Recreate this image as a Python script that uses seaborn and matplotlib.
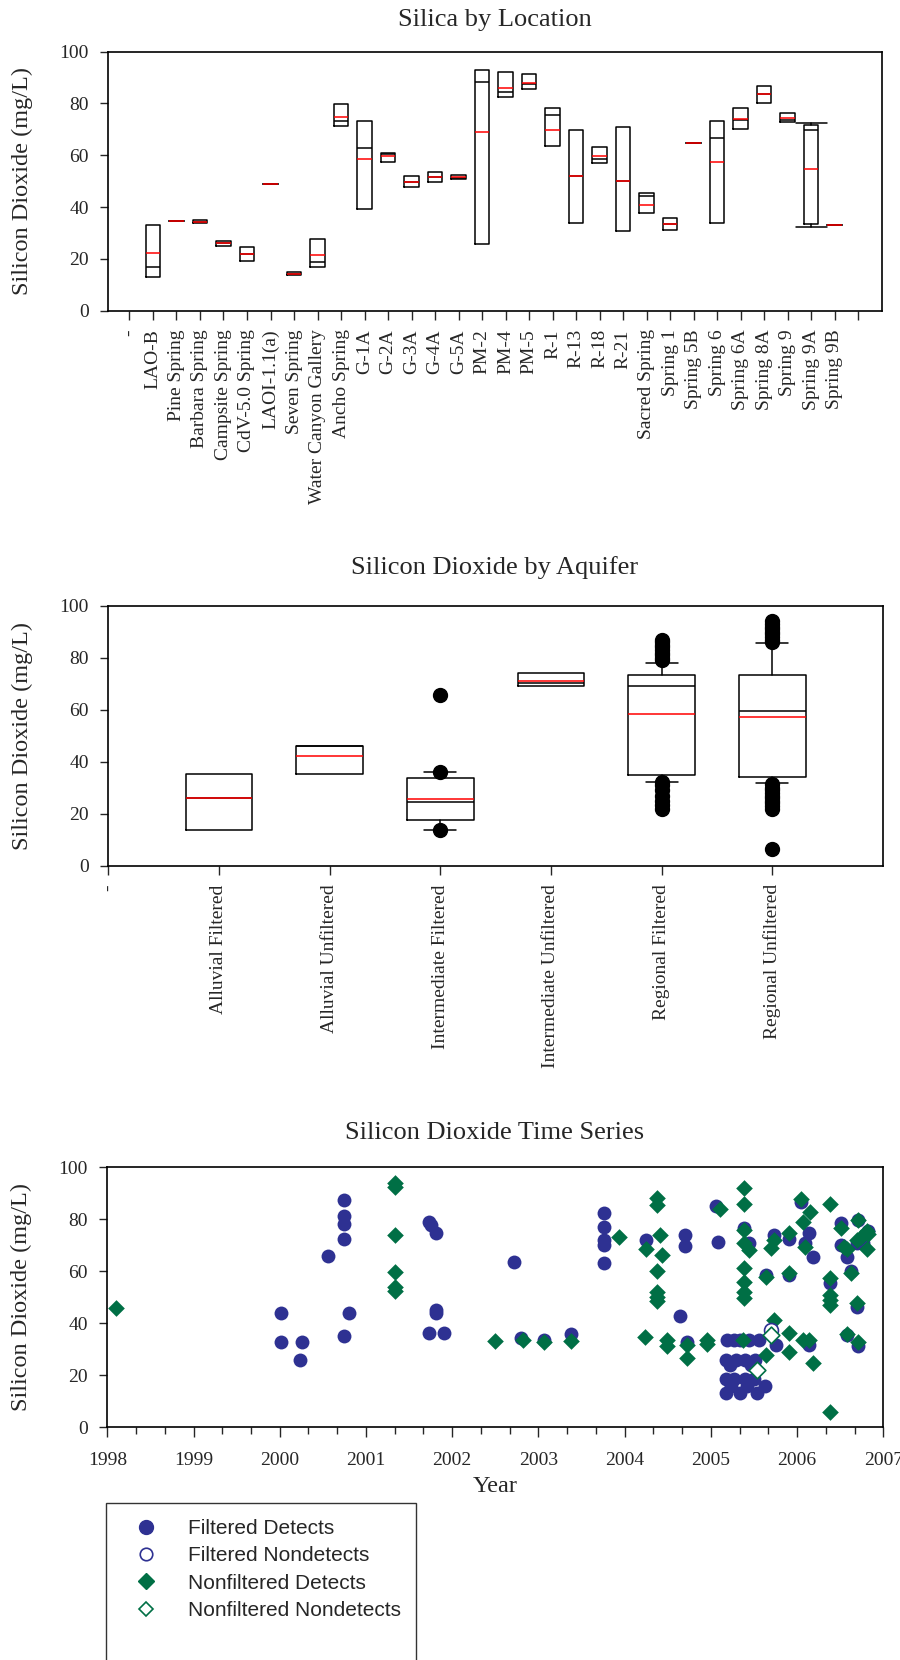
import matplotlib
matplotlib.use("Agg")
import matplotlib.pyplot as plt
from matplotlib.lines import Line2D
from matplotlib.patches import Rectangle
from matplotlib.ticker import MultipleLocator
import numpy as np
import pandas as pd
import seaborn as sns

# --- Silica by location (box summary) ---
locations = ["-", "LAO-B", "Pine Spring", "Barbara Spring", "Campsite Spring", "CdV-5.0 Spring",
             "LAOI-1.1(a)", "Seven Spring", "Water Canyon Gallery", "Ancho Spring", "G-1A", "G-2A",
             "G-3A", "G-4A", "G-5A", "PM-2", "PM-4", "PM-5", "R-1", "R-13", "R-18", "R-21",
             "Sacred Spring", "Spring 1", "Spring 5B", "Spring 6", "Spring 6A", "Spring 8A",
             "Spring 9", "Spring 9A", "Spring 9B", ""]
loc_q3 = [33.2, 34.7, 35.0, 26.9, 24.6, 48.8, 15.1, 27.7, 79.7, 73.2, 60.9, 52.0, 53.7, 52.5, 93.1,
          92.0, 91.2, 78.1, 69.9, 63.1, 70.9, 45.3, 35.6, 64.6, 73.4, 78.1, 86.9, 76.2, 71.7, 32.9]
loc_q1 = [13.2, 34.7, 33.9, 25.1, 19.3, 48.8, 13.8, 17.0, 71.4, 39.3, 57.3, 47.8, 49.7, 50.7, 25.9,
          82.5, 85.6, 63.4, 33.9, 57.0, 30.9, 37.7, 31.1, 64.6, 33.9, 70.2, 80.2, 72.7, 33.6, 32.9]
loc_med = [16.9, 34.7, 34.4, 26.0, 22.0, 48.8, 14.3, 18.7, 73.4, 62.8, 60.5, 49.5, 51.7, 51.1, 88.4,
           84.4, 87.5, 75.6, 51.9, 58.6, 50.2, 44.1, 33.4, 64.6, 66.7, 73.6, 83.7, 73.7, 69.9, 32.9]
loc_mean = [22.1, 34.7, 34.4, 26.0, 22.0, 48.8, 14.3, 21.6, 74.8, 58.6, 59.6, 49.5, 51.7, 51.8, 69.1,
            86.1, 88.1, 69.6, 51.9, 59.6, 50.2, 40.8, 33.5, 64.6, 57.3, 74.1, 83.7, 74.4, 54.7, 32.9]
loc_whislo = list(loc_q1[:28]) + [32.5, 32.9]
loc_whishi = list(loc_q3[:28]) + [72.6, 32.9]

# --- Silicon dioxide by aquifer ---
aquifers = ["-", "Alluvial Filtered", "Alluvial Unfiltered", "Intermediate Filtered",
            "Intermediate Unfiltered", "Regional Filtered", "Regional Unfiltered"]
aq_q1 = [13.7, 35.4, 17.5, 69.1, 35.0, 34.0]
aq_q3 = [35.4, 46.2, 33.6, 74.0, 73.5, 73.2]
aq_med = [25.9, 45.9, 24.5, 70.2, 69.0, 59.4]
aq_mean = [25.9, 42.2, 25.8, 71.2, 58.2, 57.3]
aq_whislo = [13.7, 35.4, 13.7, 69.1, 32.3, 31.7]
aq_whishi = [35.4, 46.2, 35.9, 74.0, 78.1, 85.5]
aq_fliers = [[], [], [65.7, 35.9, 13.7], [],
             [79.0, 80.0, 81.0, 82.0, 83.0, 84.0, 85.0, 86.0, 87.0,
              32.3, 31.0, 29.0, 27.0, 25.0, 23.5, 22.0],
             [86.0, 87.0, 88.0, 89.0, 90.0, 91.0, 92.0, 93.0, 94.0,
              31.5, 30.0, 29.0, 28.0, 27.0, 26.0, 25.0, 24.0, 23.0, 22.0, 6.3]]

# --- time series ---
fd_year = [2000.01, 2000.01, 2000.26, 2000.24, 2000.56, 2000.74, 2000.74, 2000.74, 2000.74, 2000.74,
           2000.80, 2001.73, 2001.75, 2001.81, 2001.81, 2001.81, 2001.73, 2001.91, 2002.72, 2002.80,
           2003.07, 2003.38, 2003.76, 2003.76, 2003.76, 2003.76, 2003.76, 2004.25, 2004.64, 2004.70,
           2004.70, 2004.72, 2005.06, 2005.08,
           2005.19, 2005.27, 2005.34, 2005.44, 2005.56, 2005.17, 2005.29, 2005.40, 2005.51, 2005.22,
           2005.47, 2005.17, 2005.27, 2005.40, 2005.50, 2005.23, 2005.42, 2005.63, 2005.17, 2005.34,
           2005.53,
           2005.38, 2005.44, 2005.64, 2005.73, 2005.75, 2005.91, 2005.91, 2006.05, 2006.14, 2006.09,
           2006.18, 2006.14, 2006.38, 2006.51, 2006.51, 2006.58, 2006.62, 2006.58, 2006.69, 2006.71,
           2006.71, 2006.82, 2006.77, 2006.69]
fd_value = [44.1, 32.9, 32.9, 25.9, 66.0, 87.3, 81.3, 78.1, 72.4, 35.1,
            44.1, 79.1, 77.7, 74.9, 45.1, 43.8, 36.1, 36.1, 63.7, 34.2,
            33.5, 35.9, 82.3, 77.2, 72.0, 70.1, 63.3, 72.0, 42.8, 74.0,
            69.7, 32.9, 85.2, 71.4,
            33.6, 33.6, 33.6, 33.6, 33.6, 25.9, 25.9, 25.9, 25.9, 24.0,
            24.0, 18.6, 18.6, 18.6, 18.6, 16.0, 16.0, 16.0, 13.1, 13.1,
            13.1,
            76.5, 70.8, 58.6, 74.0, 31.7, 72.4, 58.6, 86.8, 74.9, 71.0,
            65.6, 31.7, 55.4, 78.5, 70.1, 65.6, 60.1, 35.5, 46.4, 31.3,
            79.7, 75.6, 70.8, 70.8]
fn_year = [2005.70]
fn_value = [37.4]
nd_year = [1998.10, 2001.34, 2001.34, 2001.34, 2001.34, 2001.34, 2001.34, 2002.50, 2002.82, 2003.07,
           2003.38, 2003.94, 2004.25, 2004.24, 2004.38, 2004.38, 2004.41, 2004.43, 2004.38, 2004.38,
           2004.38, 2004.38, 2004.49, 2004.49, 2004.72, 2004.72, 2004.95, 2004.95, 2005.11, 2005.38,
           2005.38, 2005.38, 2005.38, 2005.38, 2005.38, 2005.38, 2005.38, 2005.44, 2005.37, 2005.64,
           2005.73, 2005.64, 2005.73, 2005.70, 2005.91, 2005.91, 2005.91, 2005.91, 2006.05, 2006.15,
           2006.07, 2006.09, 2006.07, 2006.14, 2006.18, 2006.38, 2006.38, 2006.38, 2006.38, 2006.38,
           2006.38, 2006.51, 2006.55, 2006.58, 2006.62, 2006.58, 2006.69, 2006.71, 2006.71, 2006.81,
           2006.81, 2006.74, 2006.82, 2006.69]
nd_value = [45.8, 94.1, 92.3, 74.1, 59.6, 54.1, 52.5, 33.3, 33.6, 32.9,
            33.2, 73.3, 68.5, 34.8, 88.1, 85.5, 74.0, 66.3, 60.2, 52.2,
            50.2, 48.6, 33.6, 31.4, 31.7, 26.8, 33.6, 31.9, 83.8, 91.9,
            85.9, 75.9, 70.8, 61.2, 56.0, 52.2, 49.6, 68.2, 33.5, 27.8,
            41.3, 57.9, 72.0, 68.8, 74.9, 59.2, 36.1, 29.1, 87.7, 82.9,
            79.1, 69.2, 33.6, 33.6, 24.8, 85.8, 6.0, 57.3, 50.9, 49.0,
            47.0, 76.5, 69.5, 68.5, 59.2, 35.9, 47.9, 32.9, 79.7, 75.5,
            68.5, 73.1, 74.3, 72.0]
nn_year = [2005.53, 2005.70]
nn_value = [22.0, 35.5]

blue = "#2e3192"
green = "#006f45"

sns.set_style("ticks")
plt.rcParams["font.family"] = ["Liberation Serif", "DejaVu Serif"]
plt.rcParams["axes.linewidth"] = 1.2

W, H = 900, 1660
fig = plt.figure(figsize=(9, 16.6), dpi=100)


def box_axes(left, right, top, bottom):
    return fig.add_axes([left / W, 1 - bottom / H, (right - left) / W, (bottom - top) / H])


def style_axes(ax):
    for s in ax.spines.values():
        s.set_visible(True)
        s.set_color("black")
    ax.set_ylim(0, 100)
    ax.set_yticks(range(0, 101, 20))
    ax.tick_params(axis="y", direction="out", length=6, width=1, labelsize=14, pad=8)
    ax.tick_params(axis="x", direction="out", length=6.3, width=1, labelsize=14, pad=7)
    ax.set_ylabel("Silicon Dioxide (mg/L)", fontsize=17.5)
    ax.yaxis.set_label_coords(-0.097, 0.5)
    ax.grid(False)


box_kw = dict(showmeans=True, meanline=True, manage_ticks=False,
              boxprops=dict(color="black", linewidth=1.1),
              medianprops=dict(color="black", linewidth=1.1),
              meanprops=dict(color="red", linewidth=1.1, linestyle="-"),
              whiskerprops=dict(color="black", linewidth=1.1),
              capprops=dict(color="black", linewidth=1.1),
              flierprops=dict(marker="o", markerfacecolor="black", markeredgecolor="black",
                              markersize=10))

# ---- panel 1 ----
ax1 = box_axes(108.3, 881.7, 51.7, 310.7)
stats1 = []
for i in range(len(loc_q1)):
    stats1.append(dict(q1=loc_q1[i], q3=loc_q3[i], med=loc_med[i], mean=loc_mean[i],
                       whislo=loc_whislo[i], whishi=loc_whishi[i], fliers=[]))
caps1 = [1.32 if loc_whishi[i] != loc_q3[i] else 0.0 for i in range(len(loc_q1))]
ax1.bxp(stats1, positions=list(range(1, len(loc_q1) + 1)), widths=0.62, capwidths=caps1, **box_kw)
ax1.set_xlim(-0.9, 32)
ax1.set_xticks(range(len(locations)))
ax1.set_xticklabels(locations, rotation=90, ha="center", va="top")
style_axes(ax1)
fig.text(495 / W, 1 - 20 / H, "Silica by Location", ha="center", va="center", fontsize=19)

# ---- panel 2 ----
ax2 = box_axes(108.3, 883, 605.7, 865.7)
stats2 = []
for i in range(len(aq_q1)):
    stats2.append(dict(q1=aq_q1[i], q3=aq_q3[i], med=aq_med[i], mean=aq_mean[i],
                       whislo=aq_whislo[i], whishi=aq_whishi[i], fliers=aq_fliers[i]))
caps2 = [0.29 if (aq_whishi[i] != aq_q3[i] or aq_whislo[i] != aq_q1[i]) else 0.0
         for i in range(len(aq_q1))]
ax2.bxp(stats2, positions=list(range(1, len(aq_q1) + 1)), widths=0.6, capwidths=caps2, **box_kw)
ax2.set_xlim(0, 7)
ax2.set_xticks(range(len(aquifers)))
ax2.set_xticklabels(aquifers, rotation=90, ha="center", va="top")
style_axes(ax2)
fig.text(495 / W, 1 - 568 / H, "Silicon Dioxide by Aquifer", ha="center", va="center", fontsize=19)

# ---- panel 3 ----
ax3 = box_axes(107.3, 883.3, 1167.3, 1427.3)
fd = pd.DataFrame({"year": fd_year, "value": fd_value})
fn = pd.DataFrame({"year": fn_year, "value": fn_value})
nd = pd.DataFrame({"year": nd_year, "value": nd_value})
nn = pd.DataFrame({"year": nn_year, "value": nn_value})
sns.scatterplot(data=fd, x="year", y="value", ax=ax3, marker="o", s=100, color=blue,
                edgecolor=blue, linewidth=0, legend=False, zorder=3)
sns.scatterplot(data=nd, x="year", y="value", ax=ax3, marker="D", s=72, color=green,
                edgecolor=green, linewidth=0, legend=False, zorder=4)
sns.scatterplot(data=fn, x="year", y="value", ax=ax3, marker="o", s=100, color="white",
                edgecolor=blue, linewidth=1.2, legend=False, zorder=5)
sns.scatterplot(data=nn, x="year", y="value", ax=ax3, marker="D", s=72, color="white",
                edgecolor=green, linewidth=1.2, legend=False, zorder=5)
ax3.set_xlim(1998, 2007)
ax3.set_xticks(range(1998, 2008))
ax3.xaxis.set_minor_locator(MultipleLocator(1 / 3))
style_axes(ax3)
ax3.tick_params(axis="x", which="major", length=7.5, pad=10)
ax3.tick_params(axis="x", which="minor", length=5, width=1)
ax3.set_xlabel("Year", fontsize=17.5, labelpad=5)
fig.text(495 / W, 1 - 1133 / H, "Silicon Dioxide Time Series", ha="center", va="center", fontsize=19)

# legend below the time series
handles = [
    Line2D([], [], linestyle="none", marker="o", markersize=10, markerfacecolor=blue, markeredgecolor=blue),
    Line2D([], [], linestyle="none", marker="o", markersize=9, markerfacecolor="white",
           markeredgecolor=blue, markeredgewidth=1.2),
    Line2D([], [], linestyle="none", marker="D", markersize=8, markerfacecolor=green, markeredgecolor=green),
    Line2D([], [], linestyle="none", marker="D", markersize=7.5, markerfacecolor="white",
           markeredgecolor=green, markeredgewidth=1.2),
]
labels = ["Filtered Detects", "Filtered Nondetects", "Nonfiltered Detects", "Nonfiltered Nondetects"]
leg = fig.legend(handles, labels, loc="upper left", bbox_to_anchor=(136 / W, 1 - 1519 / H),
                 frameon=False, borderpad=0, borderaxespad=0, handlelength=1.0,
                 handletextpad=1.5, labelspacing=0.4,
                 prop={"family": ["Liberation Sans", "DejaVu Sans"], "size": 15})
fig.add_artist(Rectangle((105.7 / W, 1 - 1680 / H), 310 / W, (1680 - 1503.3) / H,
                         transform=fig.transFigure, fill=False, edgecolor="#333333",
                         linewidth=1.0, clip_on=False))

fig.savefig("out.png", dpi=100)
